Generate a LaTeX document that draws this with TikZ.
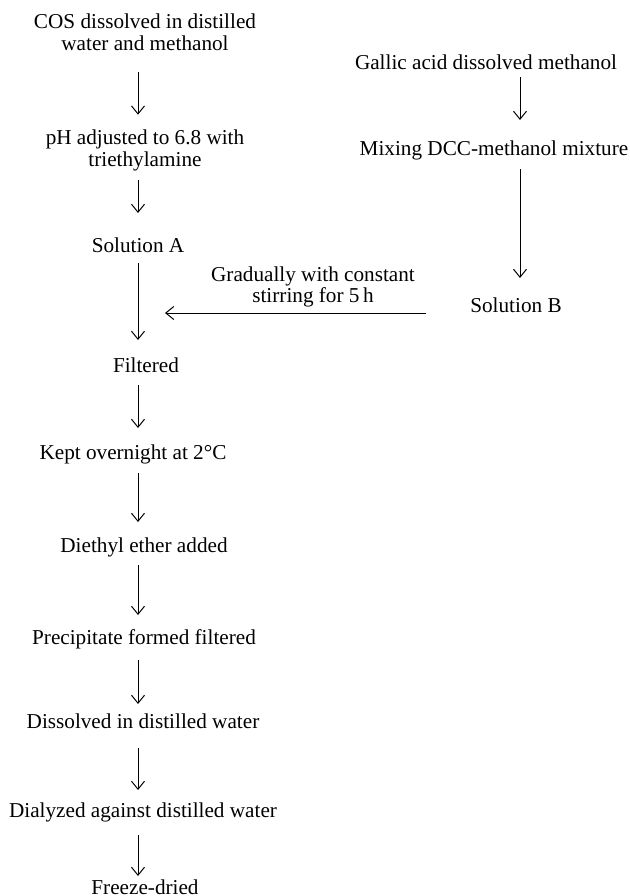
\documentclass[tikz,border=0pt]{standalone}
\usepackage{fontspec}
\setmainfont{Liberation Serif}
\usetikzlibrary{arrows.meta}

\begin{document}
\begin{tikzpicture}[x=0.5pt,y=-0.5pt,
  stage/.style={inner sep=0pt,outer sep=0pt,align=center,text height=8pt,text depth=1pt,font=\fontsize{10.6}{10.8}\selectfont},
  stagetwo/.style={stage,text height=18.8pt},
  flow/.style={line width=0.5pt,-{Straight Barb[length=4pt,width=6.5pt]},shorten <=6pt,shorten >=6pt}]

  \useasboundingbox (0,0) rectangle (630,896);

  % left branch: COS
  \node(cos)      [stagetwo] at (145,32.5) {COS dissolved in distilled\\water and methanol};
  \node(ph)       [stagetwo] at (145,148.5){pH adjusted to 6.8 with\\triethylamine};
  \node(solA)     [stage] at (138,245)  {Solution A};
  \node(filt)     [stage] at (146,365)  {Filtered};
  \node(kept)     [stage] at (133,452)  {Kept overnight at 2°C};
  \node(ether)    [stage] at (144,545)  {Diethyl ether added};
  \node(precip)   [stage] at (144,637)  {Precipitate formed filtered};
  \node(dissolved)[stage] at (143,721)  {Dissolved in distilled water};
  \node(dialyzed) [stage] at (143,810)  {Dialyzed against distilled water};
  \node(freeze)   [stage] at (145,887)  {Freeze-dried};

  % right branch: gallic acid
  \node(gallic)   [stage] at (486,62)   {Gallic acid dissolved methanol};
  \node(mix)      [stage] at (494,148)  {Mixing DCC-methanol mixture};
  \node(solB)     [stage] at (516,305)  {Solution B};

  \node(stir)     [stagetwo] at (313,285)  {Gradually with constant\\stirring for 5\,h};
  \coordinate(merge) at (165,313);

  % left arrows
  \draw[flow,shorten <=10pt,shorten >=7pt] (cos.south -| solA) -- (ph.north -| solA);
  \draw[flow,shorten >=11.5pt] (ph.south -| solA) -- (solA.north);
  \draw[flow,shorten <=4.5pt,shorten >=8pt] (solA.south) -- (filt.north -| solA);
  \draw[flow,shorten <=5.5pt,shorten >=7.5pt] (filt.south -| solA) -- (kept.north -| solA);
  \draw[flow,shorten >=7pt] (kept.south -| solA) -- (ether.north -| solA);
  \draw[flow,shorten <=5.5pt,shorten >=6.5pt] (ether.south -| solA) -- (precip.north -| solA);
  \draw[flow,shorten <=7pt,shorten >=4pt] (precip.south -| solA) -- (dissolved.north -| solA);
  \draw[flow,shorten <=9pt,shorten >=5.5pt] (dissolved.south -| solA) -- (dialyzed.north -| solA);
  \draw[flow,shorten <=8pt,shorten >=1pt] (dialyzed.south -| solA) -- (freeze.north -| solA);

  % right arrows
  \coordinate(rcol) at (520,0);
  \draw[flow,shorten <=3pt,shorten >=9.5pt] (gallic.south -| rcol) -- (mix.north -| rcol);
  \draw[flow,shorten >=9pt] (mix.south -| rcol) -- (solB.north -| rcol);

  % B into A
  \draw[flow,shorten <=22pt,shorten >=0pt] (solB.west |- merge) -- (merge);
\end{tikzpicture}
\end{document}
